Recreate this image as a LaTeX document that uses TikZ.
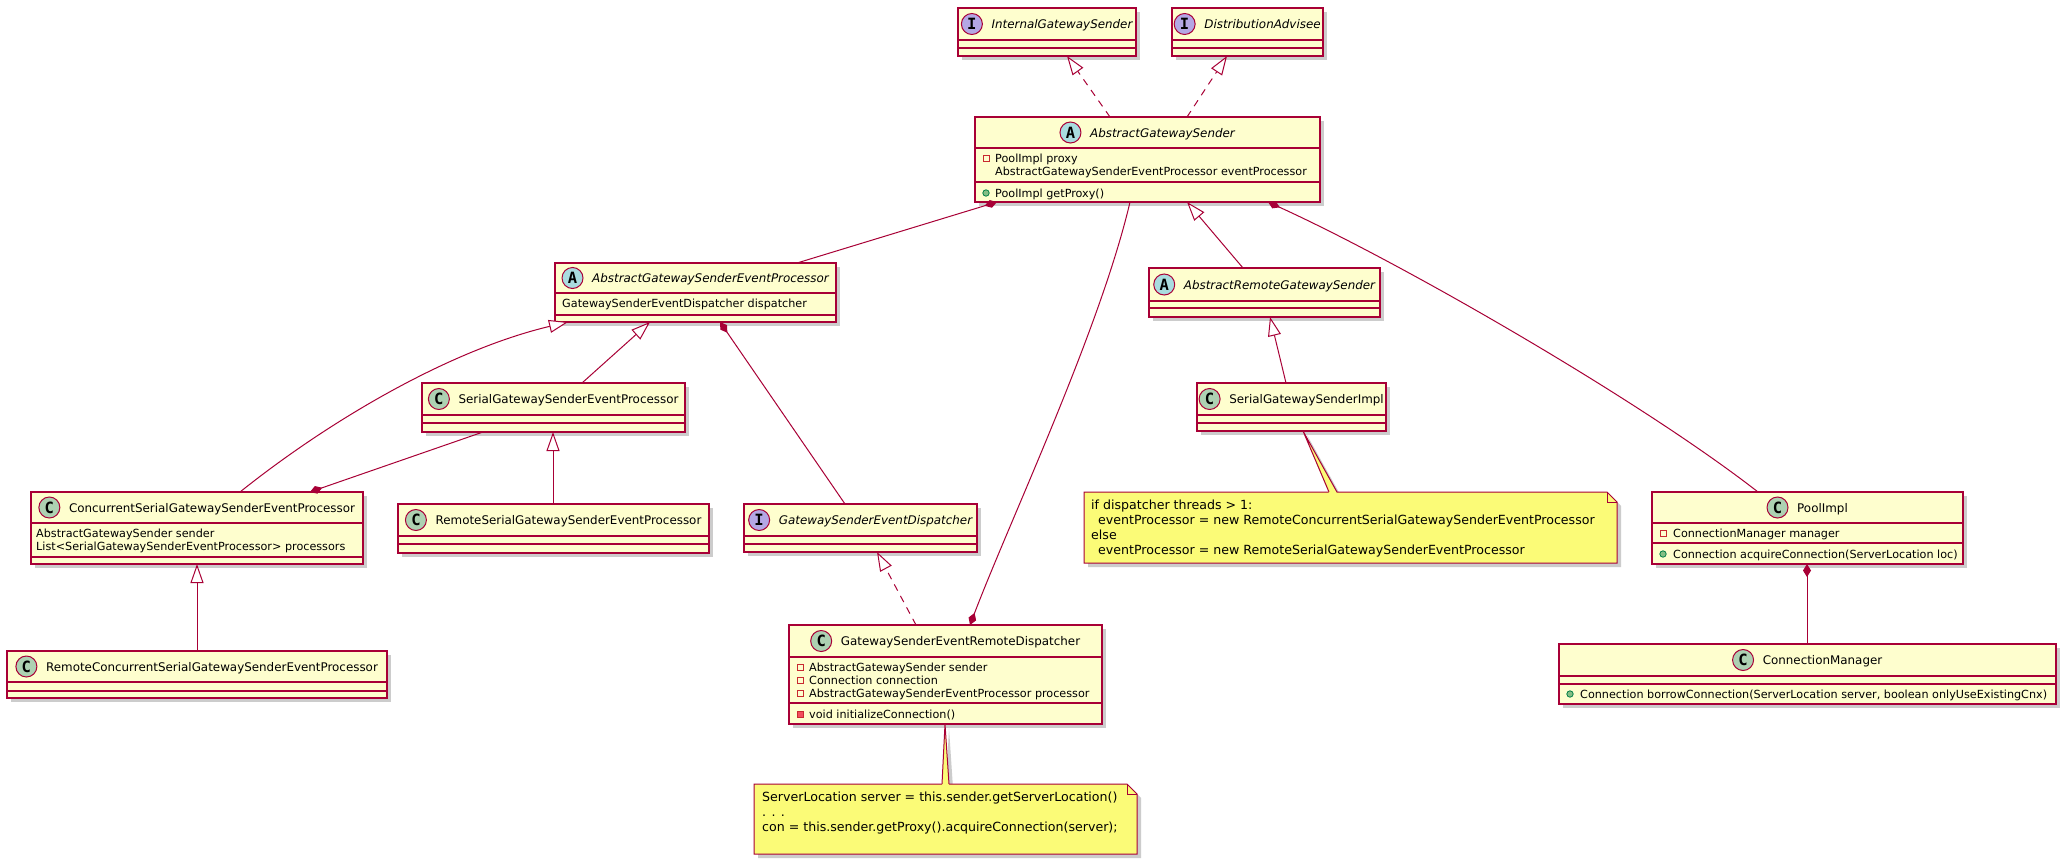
\documentclass[tikz,border=0pt]{standalone}
\usepackage{fontspec}
\setmainfont{DejaVu Sans}
\newfontfamily\iconfamily{DejaVu Sans Mono}
\usetikzlibrary{arrows.meta,calc}
\definecolor{umlborder}{HTML}{A80036}
\definecolor{umlfill}{HTML}{FEFECE}
\definecolor{circC}{HTML}{ADD1B2}
\definecolor{circA}{HTML}{A9DCDF}
\definecolor{circI}{HTML}{B4A7E5}
\definecolor{notefill}{HTML}{FBFB77}
\definecolor{privred}{HTML}{C82930}
\definecolor{privfillc}{HTML}{F24D5C}
\definecolor{pubgreen}{HTML}{038048}
\definecolor{pubfillc}{HTML}{84BE84}
\tikzset{
  classbox/.style={draw=umlborder, fill=umlfill, line width=1.3pt, inner sep=0pt, outer sep=0pt},
  sepline/.style={draw=umlborder, line width=1.3pt},
  shadowc/.style={fill=black!20},
  titletext/.style={inner sep=0pt, anchor=base, font=\fontsize{11.9pt}{15pt}\selectfont},
  iconletter/.style={inner sep=0pt, font=\iconfamily\bfseries\fontsize{15.5pt}{16pt}\selectfont},
  member/.style={inner sep=0pt, anchor=base west, font=\fontsize{11.2pt}{13pt}\selectfont},
  notetext/.style={inner sep=0pt, anchor=base west, font=\fontsize{12.6pt}{15pt}\selectfont},
  notebox/.style={draw=umlborder, fill=notefill, line width=1pt},
  conn/.style={draw=umlborder, line width=1pt},
  gen/.style={conn, -{Triangle[length=19pt,width=13pt,fill=white]}},
  real/.style={gen, dash pattern=on 7pt off 6pt},
  comp/.style={conn, {Diamond[length=13pt,width=8pt]}-},
}
% name, x1, y1, x2, y2, sep1, sep2
\newcommand\umlclass[7]{%
  \fill[shadowc] (#2+4,#3+4) rectangle (#4+4,#5+4);
  \node[classbox, anchor=north west, minimum width={(#4-#2)*1pt}, minimum height={(#5-#3)*1pt}] (#1) at (#2,#3) {};
  \draw[sepline] (#2,#6) -- (#4,#6);
  \draw[sepline] (#2,#7) -- (#4,#7);
}
% title node name, cx, cy, circle colour, letter, text
\newcommand\umltitle[6]{%
  \node[titletext] (#1) at (#2,#3+4.5) {\hspace*{30pt}#6};
  \filldraw[draw=umlborder, fill=#4, line width=1pt] ($(#1.base west)+(10.5,-4.5)$) circle (10.5pt);
  \node[iconletter] (#1-ic) at ($(#1.base west)+(10.5,-4.5)$) {#5};
}
\newcommand\mem[4]{\node[member] (#1) at (#2,#3+4) {#4};}
\newcommand\umlpf[2]{\draw[draw=privred, line width=0.9pt] (#1-3,#2-3) rectangle (#1+3,#2+3);}
\newcommand\umlpm[2]{\filldraw[draw=privred, fill=privfillc, line width=0.8pt] (#1-3,#2-3) rectangle (#1+3,#2+3);}
\newcommand\umlpub[2]{\filldraw[draw=pubgreen, fill=pubfillc, line width=0.8pt] (#1,#2) circle (3.2pt);}
% name x1 y1 x2 y2
\newcommand\umlnote[5]{%
  \fill[shadowc] (#2+4,#3+4) -- (#4+4-10,#3+4) -- (#4+4,#3+14) -- (#4+4,#5+4) -- (#2+4,#5+4) -- cycle;
  \draw[notebox] (#2,#3) -- (#4-10,#3) -- (#4,#3+10) -- (#4,#5) -- (#2,#5) -- cycle;
  \draw[conn] (#4-10,#3) -- (#4-10,#3+10) -- (#4,#3+10);
  \node[inner sep=0pt, outer sep=0pt, anchor=north west, minimum width={(#4-#2)*1pt}, minimum height={(#5-#3)*1pt}] (#1) at (#2,#3) {};
}
\begin{document}
\begin{tikzpicture}[x=1pt,y=-1pt]
\fill[white] (0,0) rectangle (2066,865);
\useasboundingbox (0,0) rectangle (2066,865);

% interfaces
\umlclass{igs}{958}{8}{1136}{56}{40}{48}
\umltitle{igs-t}{1047}{24}{circI}{I}{\itshape InternalGatewaySender}
\umlclass{da}{1172}{8}{1323}{56}{40}{48}
\umltitle{da-t}{1247.5}{24}{circI}{I}{\itshape DistributionAdvisee}

% AbstractGatewaySender
\umlclass{ags}{975}{117}{1320}{202}{148}{182}
\umltitle{ags-t}{1147.5}{132.5}{circA}{A}{\itshape AbstractGatewaySender}
\umlpf{986}{158}
\mem{ags-f1}{995}{158}{PoolImpl proxy}
\mem{ags-f2}{995}{171}{AbstractGatewaySenderEventProcessor eventProcessor}
\umlpub{986}{193}
\mem{ags-m1}{995}{193}{PoolImpl getProxy()}

% AbstractGatewaySenderEventProcessor
\umlclass{agsep}{555}{263}{836}{322}{293}{315}
\umltitle{agsep-t}{695.5}{278}{circA}{A}{\itshape AbstractGatewaySenderEventProcessor}
\mem{agsep-f1}{562}{303}{GatewaySenderEventDispatcher dispatcher}

% SerialGatewaySenderEventProcessor
\umlclass{serial}{422}{383}{685}{432}{415}{423}
\umltitle{serial-t}{553.5}{399}{circC}{C}{SerialGatewaySenderEventProcessor}

% RemoteSerialGatewaySenderEventProcessor
\umlclass{rs}{398}{504}{709}{553}{536}{544}
\umltitle{rs-t}{553.5}{520}{circC}{C}{RemoteSerialGatewaySenderEventProcessor}

% ConcurrentSerialGatewaySenderEventProcessor
\umlclass{conc}{31}{492}{363}{564}{523}{557}
\umltitle{conc-t}{197}{507.5}{circC}{C}{ConcurrentSerialGatewaySenderEventProcessor}
\mem{conc-f1}{36}{533}{AbstractGatewaySender sender}
\mem{conc-f2}{36}{546}{List<SerialGatewaySenderEventProcessor> processors}

% RemoteConcurrentSerialGatewaySenderEventProcessor
\umlclass{rc}{7}{651}{387}{698}{682}{691}
\umltitle{rc-t}{197}{666.5}{circC}{C}{RemoteConcurrentSerialGatewaySenderEventProcessor}

% GatewaySenderEventDispatcher
\umlclass{gsed}{744}{504}{977}{552}{536}{544}
\umltitle{gsed-t}{860.5}{520}{circI}{I}{\itshape GatewaySenderEventDispatcher}

% GatewaySenderEventRemoteDispatcher
\umlclass{gserd}{789}{625}{1102}{724}{657}{703}
\umltitle{gserd-t}{945.5}{641}{circC}{C}{GatewaySenderEventRemoteDispatcher}
\umlpf{800}{667}
\mem{gserd-f1}{809}{667}{AbstractGatewaySender sender}
\umlpf{800}{680}
\mem{gserd-f2}{809}{680}{Connection connection}
\umlpf{800}{693}
\mem{gserd-f3}{809}{693}{AbstractGatewaySenderEventProcessor processor}
\umlpm{800}{714}
\mem{gserd-m1}{809}{714}{void initializeConnection()}

% AbstractRemoteGatewaySender
\umlclass{ar}{1149}{268}{1380}{317}{301}{308}
\umltitle{ar-t}{1264.5}{284.5}{circA}{A}{\itshape AbstractRemoteGatewaySender}

% SerialGatewaySenderImpl
\umlclass{si}{1197}{383}{1386}{431}{415}{423}
\umltitle{si-t}{1291.5}{399}{circC}{C}{SerialGatewaySenderImpl}

% PoolImpl
\umlclass{pool}{1652}{492}{1963}{564}{523}{543}
\umltitle{pool-t}{1807.5}{507.5}{circC}{C}{PoolImpl}
\umlpf{1663}{533}
\mem{pool-f1}{1673}{533}{ConnectionManager manager}
\umlpub{1663}{554}
\mem{pool-m1}{1673}{554}{Connection acquireConnection(ServerLocation loc)}

% ConnectionManager
\umlclass{cm}{1559}{644}{2056}{704}{676}{684}
\umltitle{cm-t}{1807.5}{660}{circC}{C}{ConnectionManager}
\umlpub{1570}{694}
\mem{cm-m1}{1580}{694}{Connection borrowConnection(ServerLocation server, boolean onlyUseExistingCnx)}

% notes
\fill[shadowc] ($(si.south west)+(110,4)$) -- (1333,496) -- (1341,496) -- cycle;
\umlnote{n1}{1084}{492}{1617}{563}
\fill[notefill] ($(si.south west)+(106,0)$) -- ($(n1.north west)+(245,1.2)$) -- ($(n1.north west)+(253,1.2)$) -- cycle;
\draw[conn] ($(n1.north west)+(245,0)$) -- ($(si.south west)+(106,0)$) -- ($(n1.north west)+(253,0)$);
\node[notetext] (n1-l1) at (1091,509.5) {if dispatcher threads > 1:};
\node[notetext] (n1-l2) at (1091,524.5) {\hspace*{7pt}eventProcessor = new RemoteConcurrentSerialGatewaySenderEventProcessor};
\node[notetext] (n1-l3) at (1091,539.5) {else};
\node[notetext] (n1-l4) at (1091,554.5) {\hspace*{7pt}eventProcessor = new RemoteSerialGatewaySenderEventProcessor};

\fill[shadowc] ($(gserd.south west)+(160,4)$) -- (946,788) -- (953,788) -- cycle;
\umlnote{n2}{754}{784}{1137}{854}
\fill[notefill] ($(gserd.south west)+(156,0)$) -- ($(n2.north west)+(188,1.2)$) -- ($(n2.north west)+(195,1.2)$) -- cycle;
\draw[conn] ($(n2.north west)+(188,0)$) -- ($(gserd.south west)+(156,0)$) -- ($(n2.north west)+(195,0)$);
\node[notetext] (n2-l1) at (762,801.5) {ServerLocation server = this.sender.getServerLocation()};
\node[notetext] (n2-l2) at (762,816.5) {. . .};
\node[notetext] (n2-l3) at (762,831.5) {con = this.sender.getProxy().acquireConnection(server);};

% connectors
\draw[real] ($(ags.north west)+(135,0)$) -- ($(igs.south west)+(109,0)$);
\draw[real] ($(ags.north west)+(212,0)$) -- ($(da.south west)+(55,0)$);
\draw[comp] ($(ags.south west)+(22,0)$) -- ($(agsep.north west)+(242,0)$);
\draw[gen] ($(ar.north west)+(94,0)$) -- ($(ags.south west)+(212,0)$);
\draw[comp] ($(ags.south west)+(293,0)$) .. controls (1400,262) and (1640,400) .. ($(pool.north west)+(106,0)$);
\draw[comp] ($(gserd.north west)+(181,0)$) .. controls (1010,520) and (1100,330) .. ($(ags.south west)+(155,0)$);
\draw[gen] ($(conc.north west)+(209,0)$) .. controls (330,420) and (450,350) .. ($(agsep.south west)+(13,0)$);
\draw[gen] ($(serial.north west)+(160,0)$) -- ($(agsep.south west)+(95,0)$);
\draw[comp] ($(agsep.south west)+(165,0)$) -- ($(gsed.north west)+(101,0)$);
\draw[comp] ($(conc.north west)+(279,0)$) -- ($(serial.south west)+(61,0)$);
\draw[gen] ($(rs.north west)+(155,0)$) -- ($(serial.south west)+(131,0)$);
\draw[gen] ($(rc.north west)+(190,0)$) -- ($(conc.south west)+(166,0)$);
\draw[real] ($(gserd.north west)+(127,0)$) -- ($(gsed.south west)+(133,0)$);
\draw[gen] ($(si.north west)+(89,0)$) -- ($(ar.south west)+(121,0)$);
\draw[comp] ($(pool.south west)+(155,0)$) -- ($(cm.north west)+(248,0)$);
\end{tikzpicture}
\end{document}
